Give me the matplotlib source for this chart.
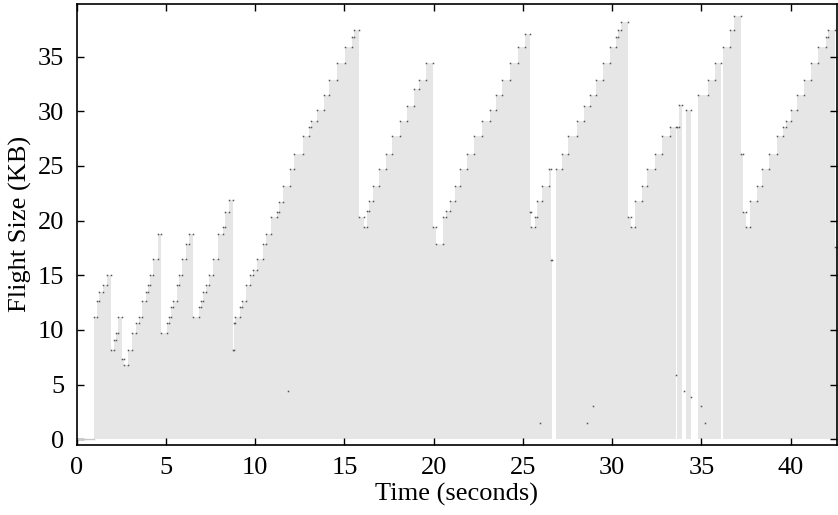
import numpy as np
import matplotlib.pyplot as plt

# flight size envelope (step changes: time in s, size in KB)
t = [0.0, 0.97, 1.155, 1.27, 1.45, 1.715, 1.9, 2.107, 2.2, 2.33, 2.52, 2.65, 2.85,
     3.08, 3.3, 3.5, 3.64, 3.86, 4.0, 4.1, 4.29, 4.57, 4.7, 5.07, 5.15, 5.26, 5.41,
     5.63, 5.71, 5.9, 6.12, 6.31, 6.53, 6.83, 6.94, 7.09, 7.24, 7.39, 7.61, 7.91,
     8.17, 8.32, 8.51, 8.73, 8.81, 8.88, 9.14, 9.25, 9.48, 9.7, 9.89, 10.08, 10.45,
     10.63, 10.9, 11.2, 11.31, 11.53, 11.94, 12.2, 12.65, 13.03, 13.1, 13.47, 13.85,
     14.15, 14.59, 15.04, 15.41, 15.52, 15.82, 16.1, 16.27, 16.35, 16.61, 16.91,
     17.32, 17.69, 18.1, 18.51, 18.92, 19.18, 19.59, 19.97, 20.12, 20.52, 20.71,
     20.9, 21.2, 21.46, 21.87, 22.28, 22.73, 23.14, 23.51, 23.85, 24.26, 24.71,
     25.12, 25.38, 25.47, 25.66, 25.79, 26.09, 26.46, 26.57, 26.61, 26.87, 27.16,
     27.54, 28.03, 28.4, 28.74, 29.11, 29.49, 29.86, 30.2, 30.34, 30.5, 30.9, 31.05,
     31.28, 31.65, 31.95, 32.39, 32.8, 33.22, 33.56, 33.63, 33.75, 33.9, 34.15,
     34.41, 34.79, 35.34, 35.76, 36.1, 36.2, 36.58, 36.8, 37.23, 37.3, 37.5, 37.73,
     38.1, 38.4, 38.78, 39.23, 39.56, 39.75, 40.0, 40.35, 40.72, 41.13, 41.54,
     41.99, 42.1, 42.47, 42.6]
kb = [0.0, 11.2, 12.6, 13.5, 14.1, 15.0, 8.2, 9.1, 9.7, 11.2, 7.3, 6.8, 8.2,
      9.7, 10.6, 11.2, 12.6, 13.5, 14.1, 15.0, 16.5, 18.8, 9.7, 10.6, 11.2, 12.1, 12.6,
      14.1, 15.0, 16.5, 17.9, 18.8, 11.2, 12.1, 12.6, 13.5, 14.1, 15.0, 16.5, 18.8,
      19.4, 20.8, 21.9, 8.2, 10.6, 11.2, 12.1, 12.6, 14.1, 15.0, 15.5, 16.5, 17.9,
      18.8, 20.3, 20.8, 21.7, 23.2, 24.7, 26.1, 27.7, 28.6, 29.1, 30.1, 31.5,
      32.9, 34.4, 35.9, 36.8, 37.4, 20.3, 19.4, 20.9, 21.8, 23.2, 24.7,
      26.1, 27.7, 29.1, 30.5, 32.0, 32.9, 34.4, 19.4, 17.9, 20.3, 20.9,
      21.8, 23.2, 24.7, 26.1, 27.7, 29.1, 30.1, 31.5, 32.9, 34.4, 35.9,
      37.1, 20.8, 19.4, 20.3, 21.8, 23.2, 24.7, 16.4, 0.0, 24.7, 26.1,
      27.7, 29.1, 30.5, 31.5, 32.9, 34.4, 35.9, 36.8, 37.4, 38.2, 20.3, 19.4,
      21.8, 23.2, 24.7, 26.1, 27.7, 28.6, 0.0, 28.6, 30.6, 0.0, 30.1,
      0.0, 31.5, 32.9, 34.4, 0.0, 35.9, 37.4, 38.7, 26.1, 20.8, 19.4, 21.8,
      23.2, 24.7, 26.1, 27.7, 28.6, 29.1, 30.1, 31.5, 32.9, 34.4, 35.9,
      36.8, 37.4, 17.6, 17.6]

# stray packets near the bottom
stray_t = [11.85, 25.95, 28.6, 28.9, 33.6, 34.0, 34.4, 35.0, 35.2]
stray_kb = [4.4, 1.5, 1.5, 3.0, 5.9, 4.4, 3.9, 3.0, 1.5]

plt.rcParams['font.family'] = ['Liberation Serif', 'DejaVu Serif']

fig = plt.figure(figsize=(8.38, 5.15), dpi=100)
ax = fig.add_axes([0.0915, 0.1365, 0.9075, 0.8555])

ax.fill_between(t, kb, 0, step='post', color='#e6e6e6', lw=0)

# little marks at the step corners (skip the empty gaps)
tt = np.array(t)
kk = np.array(kb)
m1 = kk > 0
ax.plot(tt[m1], kk[m1], ls='none', marker='s', ms=1.1, mew=0, color='#555555')
m2 = kk[:-1] > 0
ax.plot(tt[1:][m2], kk[:-1][m2], ls='none', marker='s', ms=1.1, mew=0, color='#555555')
ax.plot(stray_t, stray_kb, ls='none', marker='s', ms=1.1, mew=0, color='#555555')
ax.plot([0, 0.97], [0, 0], color='#c8c8c8', lw=1)

ax.set_xlim(0, 42.6)
ax.set_ylim(-0.5, 39.8)
ax.set_xticks(np.arange(0, 41, 5))
ax.set_yticks(np.arange(0, 36, 5))
ax.tick_params(direction='in', top=True, right=True, length=5, width=1,
               labelsize=19, pad=9)
for s in ax.spines.values():
    s.set_linewidth(1.2)

ax.set_xlabel('Time (seconds)', fontsize=19, labelpad=3)
ax.set_ylabel('Flight Size (KB)', fontsize=19, labelpad=4)

fig.savefig('out.png', dpi=100)
